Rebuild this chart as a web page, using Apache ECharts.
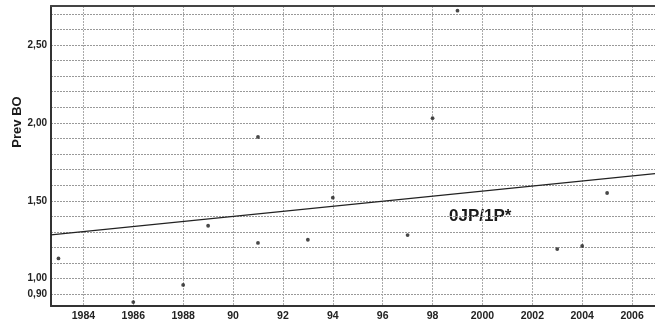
<!DOCTYPE html>
<html>
<head>
<meta charset="utf-8">
<script src="https://cdn.jsdelivr.net/npm/echarts@6/dist/echarts.min.js"></script>
<style>html,body{margin:0;padding:0;background:#fff}#c{width:655px;height:322px}</style>
</head>
<body>
<div id="c"></div>
<script>
// Data
const years = [1983, 1986, 1988, 1989, 1991, 1991, 1993, 1994, 1997, 1998, 1999, 2003, 2004, 2005];
const values = [1.13, 0.85, 0.96, 1.34, 1.23, 1.91, 1.25, 1.52, 1.28, 2.03, 2.72, 1.19, 1.21, 1.55];
const trendYears = [1982.7, 2006.92];
const trendValues = [1.282, 1.674];
const xTickValues = [1984, 1986, 1988, 1990, 1992, 1994, 1996, 1998, 2000, 2002, 2004, 2006];
const xTickLabels = ['1984', '1986', '1988', '90', '92', '94', '96', '98', '2000', '2002', '2004', '2006'];
const yGridValues = [0.9, 1.0, 1.1, 1.2, 1.3, 1.4, 1.5, 1.6, 1.7, 1.8, 1.9, 2.0, 2.1, 2.2, 2.3, 2.4, 2.5, 2.6, 2.7];
const yLabelValues = [0.9, 1.0, 1.5, 2.0, 2.5];
const yAxisName = 'Prev BO';
const annotation = '0JP/1P*';

const font = '"Liberation Sans", Arial, sans-serif';
const chart = echarts.init(document.getElementById('c'));
const points = years.map((y, i) => [y, values[i]]);
const trend = trendYears.map((y, i) => [y, trendValues[i]]);

chart.setOption({
  animation: false,
  backgroundColor: '#fff',
  grid: { left: 51, top: 6, right: 0, bottom: 16, containLabel: false, outerBoundsMode: 'none' },
  xAxis: [{
    type: 'value', min: 1982.7, max: 2006.92,
    axisLine: { show: true, lineStyle: { color: '#333', width: 2 } },
    axisTick: { show: false, customValues: xTickValues },
    axisLabel: {
      customValues: xTickValues,
      formatter: v => xTickLabels[xTickValues.indexOf(Math.round(v))] || '',
      fontFamily: font, fontWeight: 'bold', fontSize: 10.5, color: '#222', margin: 5
    },
    splitLine: { show: true, lineStyle: { color: '#aaa', type: [2, 1], width: 1 } }
  }, {
    type: 'value', min: 1982.7, max: 2006.92, position: 'top',
    axisLine: { show: true, lineStyle: { color: '#444', width: 2 } },
    axisTick: { show: false }, axisLabel: { show: false }, splitLine: { show: false }
  }],
  yAxis: {
    type: 'value', min: 0.825, max: 2.75,
    axisLine: { show: true, lineStyle: { color: '#333', width: 2 } },
    axisTick: { show: false, customValues: yGridValues },
    axisLabel: {
      customValues: yLabelValues,
      formatter: v => v.toFixed(2).replace('.', ','),
      fontFamily: font, fontWeight: 'bold', fontSize: 10, color: '#222', margin: 4
    },
    splitLine: { show: true, lineStyle: { color: '#999', type: [2, 1], width: 1 } }
  },
  series: [{
    type: 'line', data: trend, showSymbol: false, symbol: 'none',
    lineStyle: { color: '#222', width: 1.2 }, z: 3
  }, {
    type: 'scatter', data: points, symbol: 'circle', symbolSize: 3.8,
    itemStyle: { color: '#1a1a1a' }, z: 4
  }],
  graphic: [{
    type: 'text', x: 17, y: 122, rotation: Math.PI / 2,
    style: { text: yAxisName, font: 'bold 13px ' + font, fill: '#1a1a1a', align: 'center', verticalAlign: 'middle' }
  }, {
    type: 'text', left: 449, top: 208,
    style: { text: annotation, font: 'bold 17px ' + font, fill: '#1a1a1a' }
  }]
});
</script>
</body>
</html>
